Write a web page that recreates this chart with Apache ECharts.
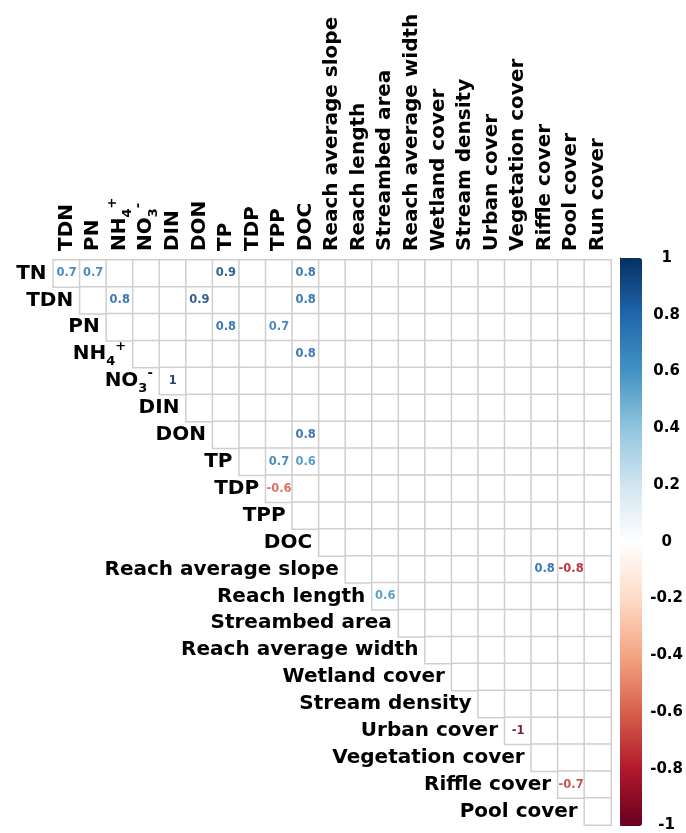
<!DOCTYPE html>
<html><head><meta charset="utf-8">
<script src="https://cdn.jsdelivr.net/npm/echarts@6/dist/echarts.min.js"></script>
<style>html,body{margin:0;padding:0;background:#fff}#c{width:686px;height:833px}</style>
</head><body><div id="c"></div>
<script>
// Variables (22). Rows: first 21, columns: last 21 (upper triangle incl. first cell)
const variables = ['TN','TDN','PN','NH4+','NO3-','DIN','DON','TP','TDP','TPP','DOC',
  'Reach average slope','Reach length','Streambed area','Reach average width','Wetland cover',
  'Stream density','Urban cover','Vegetation cover','Riffle cover','Pool cover','Run cover'];
const rowNames = variables.slice(0, 21);
const colNames = variables.slice(1);

// Significant correlations
const corrRows = ['TN','TN','TN','TN','TDN','TDN','TDN','PN','PN','NH4+','NO3-','DON','TP','TP','TDP',
  'Reach average slope','Reach average slope','Reach length','Urban cover','Riffle cover'];
const corrCols = ['TDN','PN','TP','DOC','NH4+','DON','DOC','TP','TPP','DOC','DIN','DOC','TPP','DOC','TPP',
  'Riffle cover','Pool cover','Streambed area','Vegetation cover','Pool cover'];
const corrValues = [0.7,0.7,0.9,0.8,0.8,0.9,0.8,0.8,0.7,0.8,1,0.8,0.7,0.6,-0.6,
  0.8,-0.8,0.6,-1,-0.7];

const colorbarMin = -1, colorbarMax = 1, colorbarStep = 0.2;

const palette = ['#67001F','#B2182B','#D6604D','#F4A582','#FDDBC7','#FFFFFF',
  '#D1E5F0','#92C5DE','#4393C3','#2166AC','#053061'];
function hex(c){return [1,3,5].map(k=>parseInt(c.substr(k,2),16));}
function colorOf(v){
  const t = (v + 1) / 2 * (palette.length - 1);
  const i = Math.min(Math.floor(t), palette.length - 2);
  const f = t - i;
  const a = hex(palette[i]), b = hex(palette[i+1]);
  // slight lightening to mimic the antialiased small text of the reference
  const m = a.map((x,k)=>{const y = x + (b[k]-x)*f; return Math.round(y + (255-y)*0.12);});
  return 'rgb(' + m.join(',') + ')';
}
const FONT = 'DejaVu Sans';
function richName(n){
  if (n === 'NH4+') return 'NH{sub|4}{sup|+}';
  if (n === 'NO3-') return 'NO{sub|3}{sup|-}';
  return n;
}
const richStyles = {
  sub:{fontSize:13, fontWeight:'bold', fontFamily:FONT, color:'#000', lineHeight:28, verticalAlign:'bottom'},
  sup:{fontSize:13, fontWeight:'bold', fontFamily:FONT, color:'#000', lineHeight:28, verticalAlign:'top'}
};

const cells = [];
for (let r = 0; r < rowNames.length; r++) {
  for (let c = r; c < colNames.length; c++) {
    cells.push({value:[c, r, 0]});
  }
}
corrValues.forEach((v, k) => {
  const r = rowNames.indexOf(corrRows[k]);
  const c = colNames.indexOf(corrCols[k]);
  const cell = cells.find(d => d.value[0] === c && d.value[1] === r);
  cell.value[2] = v;
  cell.label = {show:true, formatter:String(v), color:colorOf(v)};
});

const rowLabelData = rowNames.map((n, i) => [i, i]);

const option = {
  animation:false,
  backgroundColor:'#fff',
  grid:[
    {left:53.3, top:260, width:557.7, height:565},
    {left:620, top:258, width:22, height:568}
  ],
  xAxis:[
    {type:'category', gridIndex:0, data:colNames, position:'top',
     axisLine:{show:false}, axisTick:{show:false}, splitLine:{show:false},
     axisLabel:{interval:0, rotate:-90, margin:9, fontSize:20, fontWeight:'bold', fontFamily:FONT,
       color:'#000', formatter:v=>richName(v), rich:richStyles}},
    {type:'value', gridIndex:1, show:false, min:0, max:1}
  ],
  yAxis:[
    {type:'category', gridIndex:0, data:rowNames, inverse:true, show:false},
    {type:'value', gridIndex:1, position:'right', min:colorbarMin, max:colorbarMax, interval:colorbarStep,
     axisLine:{show:true, lineStyle:{color:'#000', width:1}},
     axisTick:{show:true, length:4, lineStyle:{color:'#000'}},
     splitLine:{show:false},
     axisLabel:{margin:25, align:'center', fontSize:15, fontWeight:'bold', fontFamily:FONT, color:'#000',
       formatter:v=>String(Math.round(v*10)/10)}}
  ],
  visualMap:{type:'continuous', min:colorbarMin, max:colorbarMax, seriesIndex:2, calculable:false,
    orient:'vertical', left:620, top:258, itemWidth:22, itemHeight:568, padding:0, text:null,
    inRange:{color:palette}},
  series:[
    {type:'heatmap', xAxisIndex:0, yAxisIndex:0, data:cells,
     itemStyle:{color:'#fff', borderColor:'#cfcfcf', borderWidth:1.5},
     label:{show:false, fontSize:11.5, fontWeight:'bold', fontFamily:FONT},
     emphasis:{disabled:true}},
    {type:'scatter', xAxisIndex:0, yAxisIndex:0, data:rowLabelData, symbolSize:0, silent:true,
     itemStyle:{opacity:1, color:'#000'},
     label:{show:true, position:'left', distance:20, fontSize:20, fontWeight:'bold', fontFamily:FONT,
       color:'#000', opacity:1, formatter:p=>richName(rowNames[p.dataIndex]), rich:richStyles}},
    {type:'scatter', xAxisIndex:1, yAxisIndex:1, data:[], silent:true}
  ]
};
echarts.init(document.getElementById('c')).setOption(option);
</script></body></html>
